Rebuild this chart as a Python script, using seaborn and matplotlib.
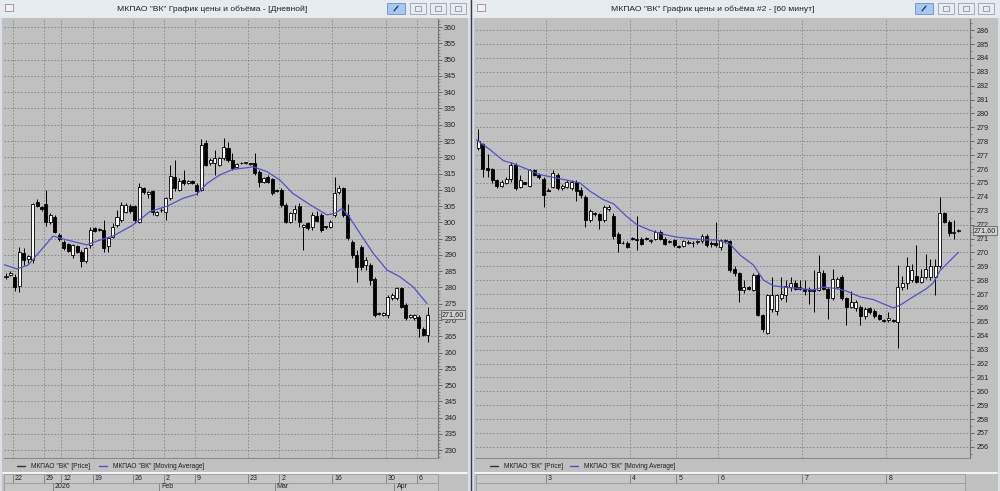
import matplotlib
matplotlib.use('Agg')
import matplotlib.pyplot as plt
import seaborn as sns
import numpy as np
from matplotlib.patches import Rectangle
from matplotlib.lines import Line2D
from matplotlib.ticker import MultipleLocator
from matplotlib.transforms import blended_transform_factory

# ---------- дневной график (левое окно) ----------
d_open = [283.2, 283.8, 283.3, 280.5, 290.7, 288.7, 288.5, 306.4, 304.6, 305.5,
          300.0, 301.8, 296.1, 294.1, 293.4, 290.0, 292.8, 291.0, 288.0, 293.0,
          298.2, 297.9, 297.7, 292.6, 295.6, 299.2, 300.7, 303.3, 305.0, 304.9,
          300.2, 310.5, 308.8, 309.5, 302.3, 303.8, 303.3, 307.4, 314.1, 310.0,
          313.0, 312.0, 312.8, 311.5, 310.0, 324.5, 318.2, 318.2, 317.7, 319.7,
          322.8, 319.2, 317.1, 318.2, 318.2, 318.0, 318.2, 315.6, 312.5, 314.1,
          313.3, 309.9, 310.0, 305.4, 300.2, 302.8, 305.0, 298.5, 299.7, 298.5,
          302.0, 302.3, 298.6, 298.7, 302.3, 309.2, 310.5, 302.3, 294.1, 290.0,
          292.5, 286.9, 286.9, 282.5, 272.1, 271.5, 271.5, 276.7, 276.7, 279.7,
          274.6, 271.0, 270.5, 271.0, 267.1, 265.4]
d_close = [283.6, 284.5, 280.3, 291.0, 288.5, 289.6, 305.5, 305.0, 304.2, 300.2,
           302.3, 297.2, 294.8, 292.0, 291.2, 293.0, 291.0, 288.0, 292.0, 297.7,
           297.4, 297.8, 292.0, 295.1, 298.7, 301.8, 305.4, 305.4, 303.5, 300.7,
           311.0, 309.2, 309.3, 303.3, 303.3, 303.7, 307.4, 314.3, 310.5, 312.8,
           312.0, 312.8, 312.2, 309.5, 323.8, 317.7, 319.2, 319.7, 319.7, 323.3,
           319.2, 316.6, 317.8, 318.1, 318.3, 317.9, 315.1, 312.5, 313.6, 312.5,
           308.9, 309.7, 305.4, 300.2, 302.8, 304.0, 300.2, 299.1, 298.2, 302.3,
           300.5, 297.7, 298.5, 300.2, 309.0, 310.5, 302.3, 295.1, 290.0, 286.4,
           286.4, 288.4, 282.3, 271.5, 272.0, 272.2, 277.2, 277.7, 279.7, 274.1,
           270.5, 271.6, 271.5, 267.4, 265.4, 271.6]
d_high = [284.3, 285.0, 284.0, 292.5, 292.0, 290.0, 306.0, 307.2, 305.0, 309.8,
          302.8, 302.3, 296.6, 294.6, 293.8, 293.5, 293.2, 291.5, 292.5, 298.7,
          298.5, 298.3, 300.7, 295.6, 299.7, 303.8, 306.4, 306.0, 305.5, 305.4,
          312.0, 311.0, 309.5, 310.0, 303.6, 304.3, 307.9, 317.7, 319.2, 313.6,
          316.1, 313.1, 313.0, 312.0, 325.6, 325.3, 319.7, 322.3, 320.2, 325.9,
          324.8, 321.3, 318.2, 318.6, 318.6, 318.4, 321.3, 316.1, 314.0, 314.5,
          313.6, 310.2, 310.5, 305.9, 303.3, 305.4, 305.9, 299.6, 300.2, 303.3,
          303.5, 302.8, 299.0, 300.7, 314.1, 311.5, 311.0, 305.8, 294.6, 291.5,
          293.0, 289.4, 287.4, 283.3, 272.5, 272.5, 277.7, 278.2, 280.2, 280.2,
          275.1, 272.0, 272.0, 271.5, 267.9, 274.1]
d_low = [282.6, 283.5, 279.0, 278.5, 287.0, 287.6, 287.5, 304.6, 303.5, 299.0,
         299.5, 296.6, 294.4, 291.5, 290.8, 289.0, 290.5, 286.4, 287.5, 292.0,
         297.0, 297.3, 291.0, 291.0, 295.1, 298.7, 300.2, 303.0, 303.0, 299.7,
         299.7, 308.8, 307.5, 302.3, 302.0, 303.2, 300.7, 306.9, 309.5, 309.5,
         311.5, 311.8, 311.9, 308.5, 309.5, 317.2, 317.7, 314.6, 317.2, 319.2,
         318.7, 316.1, 316.8, 317.8, 317.9, 317.6, 314.6, 311.0, 312.0, 312.0,
         308.4, 309.3, 304.6, 299.7, 299.7, 300.7, 298.7, 291.5, 297.7, 297.7,
         300.0, 297.2, 298.0, 298.2, 301.8, 308.6, 301.8, 294.6, 289.0, 281.8,
         285.4, 285.4, 280.8, 271.0, 271.6, 271.2, 270.5, 276.2, 276.2, 273.6,
         270.0, 270.6, 270.0, 264.9, 265.1, 263.3]
# скользящая средняя (номер свечи, значение)
d_ma_x = [-0.4, 2.5, 5.0, 10.6, 13.7, 18.2, 21.2, 24.1, 28.6, 32.4, 36.3, 39.9,
          43.0, 45.3, 48.2, 51.1, 54.3, 55.6, 58.8, 61.7, 64.6, 68.5, 72.3, 74.1,
          75.7, 77.0, 79.7, 82.7, 85.8, 88.7, 91.7, 94.8]
d_ma_y = [287.0, 285.7, 286.9, 295.8, 294.6, 293.1, 294.6, 295.8, 299.2, 303.3,
          305.0, 307.4, 308.7, 312.0, 314.6, 316.3, 316.8, 317.1, 315.6, 313.0,
          308.9, 305.4, 302.3, 302.8, 304.3, 302.3, 296.7, 290.5, 285.4, 283.3,
          280.2, 275.1]
d_week_pos = [2, 9, 13, 20, 29, 36, 43, 55, 62, 74, 86, 93]
d_week_lbl = ['22', '29', '12', '19', '26', '2', '9', '23', '2', '16', '30', '6']
d_month_pos = [11, 35, 61, 88]
d_month_lbl = ['2026', 'Feb', 'Mar', 'Apr']

# ---------- часовой график (правое окно) ----------
h_open = [277.5, 277.8, 276.1, 276.0, 275.2, 274.8, 275.0, 275.25, 276.3, 274.7,
          275.05, 274.8, 275.9, 275.6, 275.3, 274.5, 274.7, 275.6, 274.6, 274.7,
          274.6, 275.1, 274.5, 274.0, 272.3, 272.8, 272.75, 272.3, 273.1, 272.6,
          271.3, 270.7, 270.7, 271.0, 271.0, 271.0, 271.0, 270.8, 271.0, 271.5,
          271.0, 270.75, 270.9, 270.45, 270.45, 270.75, 270.7, 270.75, 270.8, 271.2,
          270.7, 270.7, 270.4, 270.8, 270.8, 268.8, 268.5, 267.3, 267.5, 267.3,
          268.4, 265.5, 264.2, 265.9, 265.8, 266.7, 266.9, 267.5, 267.8, 267.4,
          267.4, 267.25, 267.3, 267.3, 268.5, 267.4, 266.7, 267.5, 268.2, 266.7,
          266.1, 266.0, 266.1, 265.4, 266.0, 265.8, 265.5, 265.1, 265.1, 265.1,
          265.0, 267.5, 267.8, 268.0, 268.3, 267.9, 268.2, 268.2, 268.2, 269.0,
          272.8, 272.2, 271.4, 271.55]
h_close = [278.0, 276.0, 275.9, 275.2, 274.8, 275.1, 275.3, 276.3, 274.6, 275.2,
           274.95, 275.9, 275.6, 275.45, 274.1, 274.45, 275.7, 274.6, 274.8, 275.1,
           275.1, 274.4, 274.1, 272.3, 273.0, 272.75, 272.3, 273.3, 273.3, 271.2,
           270.7, 270.65, 270.4, 270.95, 270.9, 270.6, 270.95, 270.9, 271.5, 271.0,
           270.6, 270.85, 270.5, 270.4, 270.8, 270.7, 270.65, 270.8, 271.2, 270.5,
           270.6, 270.5, 270.9, 270.9, 268.7, 268.5, 267.3, 267.5, 267.4, 268.4,
           265.5, 264.5, 266.9, 266.9, 266.9, 267.0, 267.6, 267.8, 267.4, 267.5,
           267.2, 267.3, 267.25, 268.6, 267.4, 266.7, 268.1, 268.1, 266.7, 266.1,
           266.4, 266.4, 265.4, 265.96, 265.7, 265.4, 265.2, 265.05, 265.3, 265.05,
           267.5, 267.8, 269.0, 268.7, 267.9, 268.2, 268.8, 269.0, 269.0, 272.8,
           272.2, 271.4, 271.5, 271.6]
h_high = [278.9, 277.9, 277.1, 276.1, 275.3, 275.2, 275.4, 276.5, 276.4, 275.6,
          275.1, 276.0, 276.0, 275.7, 275.4, 274.6, 275.9, 275.7, 274.9, 275.2,
          275.2, 275.2, 274.7, 274.1, 273.1, 272.9, 272.8, 273.4, 273.4, 272.8,
          271.5, 270.8, 270.8, 271.1, 272.6, 271.1, 271.1, 271.0, 271.6, 271.6,
          271.1, 270.9, 271.0, 270.5, 270.9, 270.9, 270.8, 270.9, 271.3, 271.3,
          270.8, 272.2, 271.0, 271.0, 270.9, 269.0, 268.6, 268.0, 267.6, 268.5,
          268.5, 265.6, 267.0, 268.2, 267.0, 268.2, 268.0, 268.2, 268.0, 268.0,
          268.0, 267.5, 268.7, 269.8, 268.7, 267.5, 268.8, 268.2, 268.4, 266.8,
          267.2, 266.6, 266.2, 266.1, 266.1, 265.9, 265.6, 265.2, 265.7, 265.2,
          269.1, 268.3, 269.7, 269.2, 270.5, 268.8, 269.9, 269.5, 269.5, 274.0,
          272.9, 272.3, 272.3, 271.7]
h_low = [277.4, 275.4, 275.4, 275.0, 274.6, 274.7, 274.9, 275.1, 274.5, 274.6,
         274.9, 274.7, 275.5, 275.3, 273.3, 274.4, 274.6, 274.5, 274.5, 274.6,
         274.5, 273.7, 273.9, 271.8, 272.2, 272.6, 271.7, 272.2, 273.0, 271.0,
         270.0, 270.6, 270.3, 270.9, 270.2, 270.5, 270.9, 270.7, 270.9, 270.9,
         270.5, 270.7, 270.4, 270.3, 270.4, 270.6, 270.4, 270.6, 270.7, 270.4,
         270.4, 270.4, 270.2, 270.7, 268.6, 268.3, 266.4, 267.1, 267.3, 267.2,
         265.4, 264.3, 264.1, 265.7, 265.5, 266.6, 266.4, 267.2, 267.3, 267.3,
         266.9, 266.3, 265.7, 267.2, 267.3, 265.2, 266.6, 267.4, 266.6, 264.8,
         266.0, 265.8, 264.8, 265.2, 265.6, 265.3, 265.1, 265.0, 265.0, 265.0,
         263.1, 267.3, 267.4, 267.9, 267.8, 267.8, 268.1, 268.0, 266.9, 268.9,
         272.1, 271.2, 271.0, 271.5]
h_ma_x = [-0.4, 2.5, 5.4, 7.5, 10.4, 13.2, 16.1, 19.0, 21.8, 24.0, 26.8, 29.0,
          31.8, 34.0, 36.8, 39.7, 42.6, 45.4, 48.3, 51.2, 54.0, 56.2, 59.0, 61.2,
          63.3, 65.5, 69.0, 71.9, 74.0, 76.9, 79.1, 81.9, 84.8, 87.6, 89.1, 90.5,
          93.3, 96.2, 97.6, 99.1, 101.2, 103.0]
h_ma_y = [278.1, 277.4, 276.6, 276.4, 276.0, 275.6, 275.4, 275.2, 275.0, 274.4,
          273.8, 273.5, 272.6, 272.0, 271.6, 271.3, 271.1, 271.0, 270.9, 270.9,
          270.6, 269.8, 269.1, 268.0, 267.6, 267.5, 267.4, 267.3, 267.5, 267.4,
          267.2, 266.8, 266.6, 266.2, 266.0, 266.2, 266.8, 267.4, 267.8, 268.7,
          269.4, 270.0]
h_day_pos = [15, 33, 43, 52, 70, 88]
h_day_lbl = ['3', '4', '5', '6', '7', '8']

last_price = 271.60

sns.set_theme(style='white')
plt.rcParams['font.family'] = ['Liberation Sans', 'DejaVu Sans']

W, H = 1000, 491
GRAY = '#c0c0c0'
fig = plt.figure(figsize=(W / 100, H / 100), dpi=100)
fig.patch.set_facecolor('#d8dfe8')


def px_ax(x, y, w, h):
    ax = fig.add_axes([x / W, 1 - (y + h) / H, w / W, h / H])
    ax.set_zorder(1)
    return ax


def px_rect(x, y, w, h, fc, ec='none', lw=0.0, z=-5):
    fig.patches.append(Rectangle((x / W, 1 - (y + h) / H), w / W, h / H,
                                 transform=fig.transFigure, facecolor=fc,
                                 edgecolor=ec, linewidth=lw, zorder=z))


def px_text(x, y, s, **kw):
    fig.text(x / W, 1 - y / H, s, zorder=3, **kw)


def px_line(x0, y0, x1, y1, **kw):
    fig.add_artist(Line2D([x0 / W, x1 / W], [1 - y0 / H, 1 - y1 / H],
                          transform=fig.transFigure, zorder=3, **kw))


def draw_window(x0, x1, title, title_x, btn_x):
    # заголовок окна
    px_rect(x0, 0, x1 - x0, 18, '#e6ebf1')
    px_rect(x0 + 5, 4, 8, 7, '#f4f0f0', ec='#9a8a9a', lw=0.6, z=-4)
    px_text(title_x, 9.5, title, ha='center', va='center', fontsize=6.1, color='#202020')
    px_rect(btn_x, 3, 18, 11, '#a8c8f4', ec='#6f90c0', lw=0.6, z=-4)
    px_line(btn_x + 7, 11, btn_x + 11, 6, color='#203060', lw=0.9)
    for k in range(3):
        bx = btn_x + 23 + 20 * k
        px_rect(bx, 3, 16, 11, '#e8ecf1', ec='#9aa3ae', lw=0.6, z=-4)
        px_rect(bx + 5, 6, 6, 5, 'none', ec='#7a8390', lw=0.5, z=-3)
    # серое поле окна
    px_rect(x0 + 2, 18, x1 - x0 - 4, H - 18, GRAY)
    px_line(x0 + 3, 472.5, x1 - 3, 472.5, color='white', lw=1.2)


def draw_chart(px0, pw, o, hi, lo, c, ma_x, ma_y, xlim, ylim, step, minor,
               bar_w, min_body, seps):
    o, hi, lo, c = (np.asarray(v, dtype=float) for v in (o, hi, lo, c))
    x = np.arange(len(o))
    ax = px_ax(px0, 19, pw, 439)
    ax.set_facecolor(GRAY)
    levels = np.arange(np.ceil(ylim[0] / step) * step, ylim[1], step)
    # сетка
    for yv in levels:
        ax.axhline(yv, color='#858585', lw=0.6, ls=(0, (2, 2)), zorder=1)
    for p in seps:
        ax.axvline(p - 0.5, color='#858585', lw=0.6, ls=(0, (2, 2)), zorder=1)
    # свечи
    ax.vlines(x, lo, hi, color='black', lw=0.7, zorder=3)
    up = c >= o
    bottom = np.minimum(o, c)
    height = np.maximum(np.abs(c - o), min_body)
    ax.bar(x, height, bar_w, bottom, color=np.where(up, 'white', 'black'),
           edgecolor='black', linewidth=0.6, zorder=4)
    sns.lineplot(x=ma_x, y=ma_y, ax=ax, color='#5252c8', lw=0.9, sort=False,
                 estimator=None, zorder=5)
    ax.set_xlim(*xlim)
    ax.set_ylim(*ylim)
    ax.set_xticks([])
    ax.set_xlabel('')
    ax.set_ylabel('')
    ax.yaxis.tick_right()
    ax.set_yticks(levels)
    ax.yaxis.set_major_formatter(plt.FuncFormatter(lambda v, _: f'{v:.0f}'))
    ax.yaxis.set_minor_locator(MultipleLocator(minor))
    ax.tick_params(axis='y', which='major', right=True, length=3, width=0.6,
                   color='#555555', labelsize=5.2, labelcolor='#202020', pad=1.5)
    ax.tick_params(axis='y', which='minor', right=True, length=1.5, width=0.5,
                   color='#666666')
    for s in ['top', 'left']:
        ax.spines[s].set_visible(False)
    ax.spines['right'].set_color('#707070')
    ax.spines['right'].set_linewidth(0.8)
    ax.spines['bottom'].set_color('#8a8a8a')
    ax.spines['bottom'].set_linewidth(0.8)
    # метка последней цены
    tr = blended_transform_factory(ax.transAxes, ax.transData)
    ax.text(1.008, last_price, f'{last_price:.2f}'.replace('.', ','), transform=tr,
            ha='left', va='center', fontsize=5.2, color='#202020',
            bbox=dict(boxstyle='square,pad=0.12', fc='#cfcfcf', ec='#555555', lw=0.5),
            zorder=6, clip_on=False)
    return ax


def draw_legend(x_line1, x_line2):
    y = 466
    px_line(x_line1, y, x_line1 + 8, y, color='#303030', lw=1.0)
    px_text(x_line1 + 14, y, 'МКПАО "ВК" [Price]', ha='left', va='center',
            fontsize=4.8, color='#202020')
    px_line(x_line2, y, x_line2 + 8, y, color='#5252c8', lw=1.0)
    px_text(x_line2 + 14, y, 'МКПАО "ВК" [Moving Average]', ha='left', va='center',
            fontsize=4.8, color='#202020')


def draw_dates(px0, pw, xlim, top_pos, top_lbl, bot_pos, bot_lbl):
    axd = px_ax(px0, 474, pw, 17)
    axd.set_facecolor('#c6c6c6')
    axd.set_xlim(*xlim)
    axd.set_ylim(0, 2)
    axd.set_xticks([])
    axd.set_yticks([])
    for s in axd.spines.values():
        s.set_color('#9a9a9a')
        s.set_linewidth(0.6)
    axd.axhline(1, color='#9a9a9a', lw=0.6)
    for p, t in zip(top_pos, top_lbl):
        axd.vlines(p - 0.5, 1, 2, color='#7a7a7a', lw=0.6)
        axd.annotate(t, (p - 0.5, 1.5), xytext=(1.5, 0), textcoords='offset points',
                     ha='left', va='center', fontsize=5, color='#202020')
    for p, t in zip(bot_pos, bot_lbl):
        axd.vlines(p - 0.5, 0, 1, color='#7a7a7a', lw=0.6)
        axd.annotate(t, (p - 0.5, 0.5), xytext=(1.5, 0), textcoords='offset points',
                     ha='left', va='center', fontsize=5, color='#202020')


# левое окно
draw_window(0, 470, 'МКПАО "ВК" График цены и объёма - [Дневной]', 212, 387)
d_xlim = (-0.45, 97.3)
draw_chart(4, 434, d_open, d_high, d_low, d_close, d_ma_x, d_ma_y, d_xlim,
           (227.6, 362.5), 5, 1, 0.68, 0.25, d_week_pos)
draw_legend(17, 99)
draw_dates(4, 434, d_xlim, d_week_pos, d_week_lbl, d_month_pos, d_month_lbl)

# правое окно
draw_window(472, 1000, 'МКПАО "ВК" График цены и объёма #2 - [60 минут]', 713, 915)
h_xlim = (-0.49, 105.5)
draw_chart(476, 494, h_open, h_high, h_low, h_close, h_ma_x, h_ma_y, h_xlim,
           (255.2, 286.8), 1, 0.5, 0.64, 0.06, h_day_pos)
draw_legend(490, 570)
draw_dates(476, 489, (-0.49, 104.4), h_day_pos, h_day_lbl, [], [])

# граница между окнами
px_line(471, 0, 471, H, color='#3a3a3a', lw=1.0)

plt.savefig('out.png', dpi=100, facecolor=fig.get_facecolor())
plt.close()
